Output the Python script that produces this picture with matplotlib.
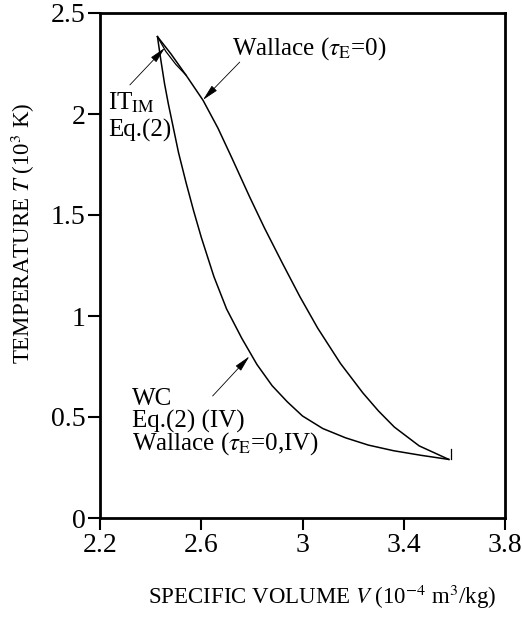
import matplotlib
matplotlib.use("Agg")
import matplotlib.pyplot as plt

plt.rcParams['font.family'] = ['Liberation Serif', 'DejaVu Serif']
plt.rcParams['mathtext.fontset'] = 'stix'

# Wallace (tau_E = 0) curve
wal_V = [2.427, 2.48, 2.54, 2.607, 2.666, 2.72, 2.791, 2.85, 2.922, 2.99, 3.06, 3.15,
         3.238, 3.30, 3.363, 3.461, 3.578]
wal_T = [2.383, 2.298, 2.192, 2.068, 1.930, 1.785, 1.590, 1.435, 1.258, 1.095, 0.94, 0.765,
         0.620, 0.53, 0.450, 0.357, 0.290]

# IT_IM Eq.(2) short branch near apex
it_V = [2.427, 2.46, 2.50, 2.54]
it_T = [2.383, 2.31, 2.245, 2.192]

# WC / Eq.(2)(IV) / Wallace (IV) curve
wc_V = [2.427, 2.44, 2.455, 2.47, 2.49, 2.51, 2.54, 2.57, 2.60, 2.65, 2.70, 2.76, 2.82,
        2.88, 2.94, 3.00, 3.08, 3.17, 3.26, 3.36, 3.47, 3.578]
wc_T = [2.383, 2.27, 2.15, 2.05, 1.93, 1.81, 1.66, 1.52, 1.39, 1.195, 1.035, 0.89, 0.76,
        0.655, 0.575, 0.505, 0.443, 0.397, 0.361, 0.333, 0.31, 0.290]

# small vertical end mark
end_V = [3.587, 3.587]
end_T = [0.290, 0.342]

xticks = [2.2, 2.6, 3.0, 3.4, 3.8]
xticklabels = ['2.2', '2.6', '3', '3.4', '3.8']
yticks = [0, 0.5, 1, 1.5, 2, 2.5]
yticklabels = ['0', '0.5', '1', '1.5', '2', '2.5']

fig = plt.figure(figsize=(5.22, 6.20), dpi=100)
ax = fig.add_axes([100/522, 1-518/620, 405/522, 505/620])

lw = 1.1
ax.plot(wal_V, wal_T, color='black', lw=lw)
ax.plot(it_V, it_T, color='black', lw=0.9)
ax.plot(wc_V, wc_T, color='black', lw=lw)
ax.plot(end_V, end_T, color='black', lw=0.9)

ax.set_xlim(2.2, 3.8)
ax.set_ylim(0, 2.5)
ax.set_xticks(xticks)
ax.set_xticklabels(xticklabels)
ax.set_yticks(yticks)
ax.set_yticklabels(yticklabels)
ax.tick_params(direction='out', length=8.5, width=1.5, labelsize=20, pad=2)
for s in ax.spines.values():
    s.set_linewidth(2)

ax.set_xlabel(r'SPECIFIC VOLUME $V$ (10$^{-4}$ m$^3$/kg)', fontsize=16.5)
ax.set_ylabel(r'TEMPERATURE $T$ (10$^3$ K)', fontsize=16.5)
ax.xaxis.set_label_coords(0.548, -0.128)
ax.yaxis.set_label_coords(-0.156, 0.564)

fs = 18
ax.text(2.720, 2.292, r'Wallace ($\tau_{\rm E}$=0)', fontsize=fs, va='baseline')
ax.text(2.232, 2.02, r'IT$_{\rm IM}$', fontsize=fs, va='baseline')
ax.text(2.232, 1.886, 'Eq.(2)', fontsize=fs, va='baseline')
ax.text(2.326, 0.559, 'WC', fontsize=fs, va='baseline')
ax.text(2.326, 0.450, 'Eq.(2) (IV)', fontsize=fs, va='baseline')
ax.text(2.326, 0.337, r'Wallace ($\tau_{\rm E}$=0,IV)', fontsize=fs, va='baseline')

ap = dict(arrowstyle='-|>,head_length=1.0,head_width=0.22', color='black', lw=0.6,
          shrinkA=0, shrinkB=0, mutation_scale=10)
ax.annotate('', xy=(2.607, 2.07), xytext=(2.752, 2.257), arrowprops=ap)
ax.annotate('', xy=(2.456, 2.327), xytext=(2.318, 2.144), arrowprops=ap)
ax.annotate('', xy=(2.79, 0.80), xytext=(2.645, 0.604), arrowprops=ap)

fig.savefig('out.png', dpi=100)
